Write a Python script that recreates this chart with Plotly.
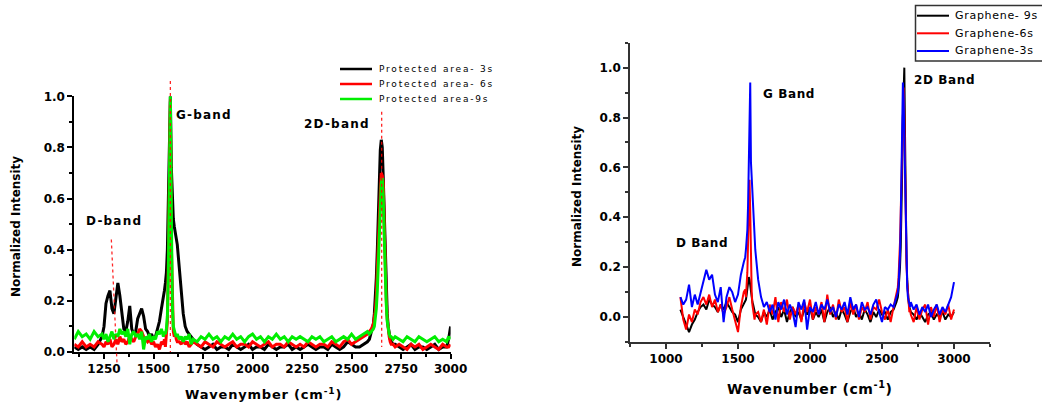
import plotly.graph_objects as go

# ---------------- Left panel: protected-area Raman spectra ----------------
WN_LEFT = [1100, 1120, 1140, 1160, 1180, 1200, 1220, 1240,
           1250, 1260, 1270, 1280, 1290, 1300, 1310, 1320, 1330, 1340, 1350, 1360,
           1370, 1380, 1390, 1400, 1410, 1420, 1430, 1440, 1450, 1460, 1470, 1480,
           1490, 1500, 1510, 1520, 1530, 1540, 1550,
           1555, 1560, 1565, 1570, 1575, 1580, 1585, 1590, 1595, 1600, 1605, 1610, 1615, 1620,
           1630, 1640, 1650, 1660, 1670, 1680, 1690, 1700,
           1720, 1740, 1760, 1780, 1800, 1820, 1840, 1860, 1880, 1900, 1920,
           1940, 1960, 1980, 2000, 2020, 2040, 2060, 2080, 2100, 2120, 2140,
           2160, 2180, 2200, 2220, 2240, 2260, 2280, 2300, 2320, 2340, 2360,
           2380, 2400, 2420, 2440, 2460, 2480, 2500, 2520, 2540, 2560, 2580,
           2590, 2600, 2610,
           2615, 2620, 2625, 2630, 2635, 2640, 2645, 2650, 2655, 2660, 2665, 2670,
           2675, 2680, 2685, 2690, 2695, 2700,
           2710, 2720,
           2740, 2760, 2780, 2800, 2820, 2840, 2860, 2880, 2900, 2920, 2940, 2960, 2980, 2990, 3000]

AREA_3S = [0.02, 0.01, 0.02, 0.01, 0.02, 0.01, 0.03, 0.06,
           0.10, 0.19, 0.22, 0.24, 0.17, 0.15, 0.21, 0.27, 0.22, 0.15, 0.09, 0.08,
           0.12, 0.18, 0.09, 0.07, 0.08, 0.13, 0.15, 0.17, 0.14, 0.09, 0.08, 0.06,
           0.07, 0.05, 0.06, 0.09, 0.12, 0.17, 0.21,
           0.24, 0.27, 0.31, 0.40, 0.58, 0.82, 1.00, 0.72, 0.56, 0.52, 0.49, 0.47, 0.45, 0.42,
           0.33, 0.24, 0.15, 0.10, 0.08, 0.07, 0.06, 0.05,
           0.03, 0.02, 0.01, 0.02, 0.03, 0.01, 0.02, 0.02, 0.01, 0.03, 0.02,
           0.01, 0.02, 0.03, 0.01, 0.02, 0.02, 0.01, 0.03, 0.02, 0.01, 0.02,
           0.02, 0.03, 0.01, 0.02, 0.01, 0.02, 0.03, 0.02, 0.01, 0.02, 0.02,
           0.01, 0.03, 0.02, 0.01, 0.02, 0.04, 0.03, 0.02, 0.02, 0.03, 0.04,
           0.05, 0.08, 0.11,
           0.15, 0.21, 0.29, 0.40, 0.53, 0.67, 0.79, 0.83, 0.80, 0.68, 0.52, 0.36,
           0.24, 0.15, 0.10, 0.07, 0.05, 0.04,
           0.03, 0.03,
           0.02, 0.01, 0.02, 0.03, 0.01, 0.02, 0.02, 0.01, 0.02, 0.03, 0.01, 0.02, 0.02, 0.05, 0.10]

AREA_6S = [0.03, 0.02, 0.04, 0.02, 0.03, 0.02, 0.04, 0.03,
           0.02, 0.04, 0.03, 0.05, 0.02, 0.03, 0.05, 0.03, 0.06, 0.04, 0.05, 0.03,
           0.04, 0.06, 0.05, 0.04, 0.06, 0.07, 0.09, 0.08, 0.06, 0.05, 0.04, 0.05,
           0.03, 0.04, 0.02, 0.03, 0.01, 0.04, 0.03,
           0.05, 0.02, 0.07, 0.12, 0.35, 0.78, 0.98, 0.42, 0.15, 0.08, 0.06, 0.07, 0.05, 0.04,
           0.04, 0.03, 0.05, 0.03, 0.04, 0.02, 0.03, 0.04,
           0.03, 0.02, 0.04, 0.03, 0.02, 0.04, 0.03, 0.02, 0.03, 0.04, 0.02,
           0.03, 0.03, 0.02, 0.04, 0.03, 0.02, 0.03, 0.04, 0.02, 0.03, 0.03,
           0.02, 0.04, 0.03, 0.02, 0.03, 0.02, 0.04, 0.03, 0.02, 0.03, 0.03,
           0.02, 0.04, 0.03, 0.02, 0.04, 0.05, 0.03, 0.04, 0.05, 0.06, 0.07,
           0.08, 0.09, 0.11,
           0.13, 0.16, 0.22, 0.30, 0.40, 0.52, 0.62, 0.70, 0.69, 0.66, 0.50, 0.33,
           0.21, 0.13, 0.08, 0.06, 0.04, 0.03,
           0.03, 0.02,
           0.03, 0.02, 0.01, 0.03, 0.02, 0.03, 0.01, 0.02, 0.03, 0.02, 0.01, 0.03, 0.02, 0.02, 0.03]

AREA_9S = [0.05, 0.08, 0.06, 0.07, 0.05, 0.08, 0.06, 0.07,
           0.05, 0.07, 0.04, 0.06, 0.08, 0.05, 0.07, 0.06, 0.09, 0.07, 0.08, 0.06,
           0.09, 0.03, 0.07, 0.08, 0.06, 0.07, 0.05, 0.08, 0.01, 0.06, 0.05, 0.07,
           0.04, 0.06, 0.05, 0.08, 0.07, 0.09, 0.06,
           0.08, 0.07, 0.09, 0.14, 0.32, 0.75, 1.00, 0.55, 0.18, 0.10, 0.08, 0.07, 0.06, 0.07,
           0.05, 0.06, 0.04, 0.06, 0.05, 0.07, 0.03, 0.05,
           0.04, 0.06, 0.05, 0.07, 0.05, 0.06, 0.04, 0.06, 0.05, 0.07, 0.05,
           0.06, 0.04, 0.06, 0.07, 0.05, 0.06, 0.04, 0.06, 0.05, 0.07, 0.05,
           0.06, 0.04, 0.06, 0.05, 0.06, 0.05, 0.04, 0.06, 0.05, 0.06, 0.04,
           0.05, 0.06, 0.04, 0.05, 0.06, 0.05, 0.07, 0.05, 0.06, 0.07, 0.08,
           0.07, 0.08, 0.09,
           0.10, 0.13, 0.17, 0.24, 0.33, 0.44, 0.56, 0.66, 0.68, 0.60, 0.45, 0.30,
           0.19, 0.12, 0.09, 0.07, 0.06, 0.06,
           0.05, 0.06,
           0.05, 0.04, 0.06, 0.05, 0.04, 0.06, 0.05, 0.04, 0.05, 0.06, 0.04, 0.05, 0.04, 0.06, 0.05]

LEFT_SERIES = [("Protected area- 3s", AREA_3S, "#000000"),
               ("Protected area- 6s", AREA_6S, "#ff0000"),
               ("Protected area-9s", AREA_9S, "#00ee00")]

# band guide lines: (x_top, y_top, x_bottom, y_bottom)
BAND_GUIDES = [(1287, 0.44, 1316, -0.05),
               (1585, 1.06, 1585, 0.0),
               (2652, 0.94, 2652, 0.02)]

LEFT_LABELS = [("D-band", 1300, 0.513), ("G-band", 1755, 0.927), ("2D-band", 2426, 0.892)]

# ---------------- Right panel: graphene Raman spectra ----------------
WN_RIGHT = [1100, 1120, 1140, 1160, 1180, 1200, 1220, 1240, 1260, 1280, 1300, 1320,
            1340, 1360, 1380, 1400, 1420, 1440, 1460, 1480, 1500, 1520, 1540,
            1550, 1555, 1560, 1565, 1570, 1575, 1580, 1585, 1590, 1595, 1600, 1605,
            1610, 1615, 1620,
            1640, 1660, 1680, 1700, 1720, 1740, 1760, 1780, 1800, 1820, 1840, 1860,
            1880, 1900, 1920, 1940, 1960, 1980, 2000, 2020, 2040, 2060, 2080, 2100,
            2120, 2140, 2160, 2180, 2200, 2220, 2240, 2260, 2280, 2300, 2320, 2340,
            2360, 2380, 2400, 2420, 2440, 2460, 2480, 2500, 2520, 2540, 2560, 2580, 2600,
            2610, 2615, 2620, 2625, 2630, 2635, 2640, 2645, 2650, 2655, 2660, 2665,
            2670, 2675, 2680, 2685, 2690, 2695, 2700,
            2720, 2740, 2760, 2780, 2800, 2820, 2840, 2860, 2880, 2900, 2920, 2940,
            2960, 2980, 3000]

GRAPHENE_9S = [0.03, 0.00, -0.03, -0.06, -0.03, -0.01, 0.02, 0.04, 0.05, 0.03, 0.07, 0.05,
               0.04, 0.02, 0.05, 0.03, 0.06, 0.04, 0.02, 0.01, -0.02, 0.03, 0.05,
               0.06, 0.07, 0.09, 0.12, 0.14, 0.16, 0.15, 0.12, 0.10, 0.08, 0.06, 0.05,
               0.04, 0.02, 0.01,
               0.00, -0.02, 0.02, 0.00,
               0.03, -0.01, 0.02, 0.04, 0.00, 0.03, -0.02, 0.02, 0.04, 0.00,
               0.02, -0.01, 0.03, 0.01, 0.04, -0.01, 0.02, 0.00, 0.03, -0.02,
               0.02, 0.04, 0.00, 0.02, -0.01, 0.03, 0.01, -0.02, 0.02, 0.04,
               0.00, 0.02, -0.01, 0.03, 0.01, -0.02, 0.02, 0.00, 0.03, 0.01,
               0.02, -0.01, 0.02, 0.03, 0.06,
               0.08, 0.11, 0.15, 0.20, 0.28, 0.40, 0.58, 0.80, 0.96, 1.00, 0.72, 0.42,
               0.24, 0.15, 0.09, 0.06, 0.04, 0.03, 0.02,
               0.01, -0.01, 0.02, 0.00, -0.02, 0.01, 0.02, -0.01, 0.01, 0.00, 0.02, -0.01,
               0.01, 0.00, 0.02]

GRAPHENE_6S = [0.08, -0.01, -0.05, 0.01, -0.02, 0.03, 0.01, 0.06, 0.08, 0.05, 0.09, 0.04,
               0.07, 0.02, 0.05, 0.01, 0.04, 0.08, 0.03, -0.02, -0.06, 0.04, 0.10,
               0.11, 0.08, 0.13, 0.18, 0.30, 0.48, 0.55, 0.42, 0.20, 0.10, 0.05, 0.03,
               0.02, -0.01, 0.01,
               0.02, -0.02, 0.03, -0.03,
               0.05, 0.01, 0.08, -0.02, 0.06, 0.02, 0.07, -0.01, 0.04, 0.01,
               0.05, -0.02, 0.06, 0.02, 0.07, -0.01, 0.04, 0.01, 0.06, -0.02,
               0.09, 0.01, 0.05, -0.01, 0.07, 0.02, 0.04, -0.02, 0.06, 0.01,
               0.05, -0.01, 0.04, 0.02, 0.06, -0.01, 0.04, 0.03, 0.07, 0.02,
               -0.01, 0.03, -0.02, 0.04, 0.10,
               0.12, 0.16, 0.22, 0.30, 0.42, 0.58, 0.75, 0.88, 0.92, 0.80, 0.56, 0.36,
               0.22, 0.14, 0.08, 0.05, 0.02, 0.03, 0.01,
               -0.02, 0.04, -0.01, 0.03, 0.05, -0.03, 0.04, 0.00, 0.05, -0.02, 0.03, 0.01,
               0.05, -0.01, 0.03]

GRAPHENE_3S = [0.08, 0.05, 0.07, 0.13, 0.04, 0.09, 0.05, 0.10, 0.14, 0.19, 0.15, 0.17,
               0.09, 0.06, 0.12, -0.02, 0.08, 0.12, 0.10, 0.06, 0.09, 0.17, 0.22,
               0.24, 0.27, 0.30, 0.35, 0.45, 0.65, 0.85, 0.94, 0.62, 0.56, 0.50, 0.44,
               0.38, 0.32, 0.27,
               0.15, 0.08, 0.04, 0.06,
               0.02, 0.05, -0.01, 0.06, 0.03, 0.07, 0.01, 0.05, 0.02, -0.04,
               0.06, 0.03, 0.07, -0.05, 0.04, 0.02, 0.06, 0.01, 0.05, 0.03,
               0.07, 0.02, 0.04, 0.00, 0.05, 0.03, 0.06, 0.01, 0.08, 0.03,
               0.05, 0.00, 0.06, 0.03, 0.04, 0.01, 0.05, 0.07, 0.02, -0.02,
               0.04, 0.03, 0.05, 0.04, 0.08,
               0.10, 0.13, 0.18, 0.25, 0.38, 0.55, 0.78, 0.94, 0.88, 0.70, 0.48, 0.30,
               0.19, 0.12, 0.08, 0.06, 0.05, 0.04, 0.06,
               0.03, 0.05, 0.01, 0.04, 0.02, 0.05, 0.00, 0.03, 0.05, 0.01, 0.04, 0.02,
               0.05, 0.08, 0.14]

RIGHT_SERIES = [("Graphene- 9s", GRAPHENE_9S, "#000000"),
                ("Graphene-6s", GRAPHENE_6S, "#ff0000"),
                ("Graphene-3s", GRAPHENE_3S, "#0000ff")]

RIGHT_LABELS = [("G Band", 1851, 0.896), ("2D Band", 2932, 0.952), ("D Band", 1251, 0.298)]

for _, ys, _ in LEFT_SERIES:
    assert len(ys) == len(WN_LEFT)
for _, ys, _ in RIGHT_SERIES:
    assert len(ys) == len(WN_RIGHT)

# ---------------- Figure geometry (pixels on a 1042 x 407 page) ----------------
W, H = 1042, 407


def px_x(p):
    return p / W


def px_y(p):
    return 1 - p / H


LEFT_XDOM = [px_x(74.3), px_x(450.6)]
LEFT_YDOM = [px_y(352), px_y(96.3)]
LEFT_XR, LEFT_YR = [1100, 3000], [0, 1.0]
RIGHT_XDOM = [px_x(630), px_x(990)]
RIGHT_YDOM = [px_y(342), px_y(42.7)]
RIGHT_XR, RIGHT_YR = [750, 3250], [-0.1, 1.1]

# overlay axes sharing the left scale, taller so guide lines can pass the frame
GUIDE_YR = [-0.08, 1.10]
span = LEFT_YDOM[1] - LEFT_YDOM[0]
GUIDE_YDOM = [LEFT_YDOM[0] + (GUIDE_YR[0] - LEFT_YR[0]) / (LEFT_YR[1] - LEFT_YR[0]) * span,
              LEFT_YDOM[0] + (GUIDE_YR[1] - LEFT_YR[0]) / (LEFT_YR[1] - LEFT_YR[0]) * span]

FONT = "DejaVu Sans"

fig = go.Figure()

for name, ys, color in LEFT_SERIES:
    fig.add_trace(go.Scatter(x=WN_LEFT, y=ys, mode="lines", name=name,
                             line=dict(color=color, width=3),
                             xaxis="x", yaxis="y", showlegend=False))

for name, ys, color in RIGHT_SERIES:
    fig.add_trace(go.Scatter(x=WN_RIGHT, y=ys, mode="lines", name=name,
                             line=dict(color=color, width=2),
                             xaxis="x2", yaxis="y2", showlegend=False))

for xt, yt, xb, yb in BAND_GUIDES:
    fig.add_trace(go.Scatter(x=[xt, xb], y=[yt, yb], mode="lines",
                             line=dict(color="rgba(255,0,0,0.85)", width=1.3, dash="dot"),
                             xaxis="x3", yaxis="y3", showlegend=False, hoverinfo="skip"))

tick_font = dict(family=FONT, size=12, color="black", weight="bold")


def axis_style(color, lw):
    return dict(showline=True, linecolor=color, linewidth=lw, ticks="outside",
                ticklen=5, tickwidth=1.5, tickcolor=color, showgrid=False,
                zeroline=False, tickfont=tick_font)


fig.update_layout(
    width=W, height=H,
    margin=dict(l=0, r=0, t=0, b=0, autoexpand=False),
    paper_bgcolor="white", plot_bgcolor="rgba(0,0,0,0)",
    showlegend=False,
    xaxis=dict(domain=LEFT_XDOM, range=LEFT_XR, anchor="y", tick0=1250, dtick=250,
               minor=dict(dtick=125, ticks="outside", ticklen=3, tickcolor="black", tickwidth=1.5),
               **axis_style("black", 2)),
    yaxis=dict(domain=LEFT_YDOM, range=LEFT_YR, anchor="x", tick0=0, dtick=0.2, tickformat=".1f",
               minor=dict(dtick=0.1, ticks="outside", ticklen=3, tickcolor="black", tickwidth=1.5),
               **axis_style("black", 2)),
    xaxis2=dict(domain=RIGHT_XDOM, range=RIGHT_XR, anchor="y2", tick0=1000, dtick=500,
                minor=dict(dtick=250, ticks="outside", ticklen=3, tickcolor="#333", tickwidth=1.5),
                **axis_style("#333", 1.5)),
    yaxis2=dict(domain=RIGHT_YDOM, range=RIGHT_YR, anchor="x2", tick0=0, dtick=0.2, tickformat=".1f",
                minor=dict(dtick=0.1, ticks="outside", ticklen=3, tickcolor="#333", tickwidth=1.5),
                **axis_style("#333", 1.5)),
    xaxis3=dict(domain=LEFT_XDOM, range=LEFT_XR, anchor="y3", visible=False),
    yaxis3=dict(domain=GUIDE_YDOM, range=GUIDE_YR, anchor="x3", visible=False),
)


def spaced(text, ls):
    return f'<span style="letter-spacing:{ls}px">{text}</span>'


annotations = []


def legend_block(series, x_line0, x_line1, x_text, rows, size, ls, lw):
    for (name, _, color), yy in zip(series, rows):
        fig.add_shape(type="line", xref="paper", yref="paper",
                      x0=px_x(x_line0), x1=px_x(x_line1), y0=px_y(yy), y1=px_y(yy),
                      line=dict(color=color, width=lw))
        annotations.append(dict(xref="paper", yref="paper", x=px_x(x_text), y=px_y(yy),
                                xanchor="left", yanchor="middle", showarrow=False,
                                text=spaced(name, ls),
                                font=dict(family=FONT, size=size, color="black")))


# left key, no frame
legend_block(LEFT_SERIES, 340, 372, 377, [69, 84, 99], 9, 1.8, 2.5)

# right key inside a frame that runs off the page edge
fig.add_shape(type="rect", xref="paper", yref="paper",
              x0=px_x(915.5), x1=px_x(1060), y0=px_y(61), y1=px_y(5.5),
              line=dict(color="#333", width=1.5), fillcolor="white", layer="above")
legend_block(RIGHT_SERIES, 917, 949, 953, [15.7, 33.3, 51], 11, 0.7, 2)

for text, x, y in LEFT_LABELS:
    annotations.append(dict(xref="x", yref="y", x=x, y=y, showarrow=False,
                            xanchor="center", yanchor="middle",
                            text=spaced(text, 1.2),
                            font=dict(family=FONT, size=12, color="black", weight="bold")))
for text, x, y in RIGHT_LABELS:
    annotations.append(dict(xref="x2", yref="y2", x=x, y=y, showarrow=False,
                            xanchor="center", yanchor="middle",
                            text=spaced(text, 0.6),
                            font=dict(family=FONT, size=12, color="black", weight="bold")))

title_font = dict(family=FONT, size=12, color="black", weight="bold")
annotations += [
    dict(xref="paper", yref="paper", x=px_x(16), y=px_y(227), textangle=-90,
         xanchor="center", yanchor="middle",
         showarrow=False, text="Normalized Intensity", font=title_font),
    dict(xref="paper", yref="paper", x=px_x(577), y=px_y(197), textangle=-90,
         xanchor="center", yanchor="middle",
         showarrow=False, text="Normalized Intensity", font=title_font),
    dict(xref="paper", yref="paper", x=px_x(263), y=px_y(394),
         xanchor="center", yanchor="middle", showarrow=False,
         text=spaced("Wavenymber (cm<sup>-1</sup>)", 0.8),
         font=dict(family=FONT, size=13, color="black", weight="bold")),
    dict(xref="paper", yref="paper", x=px_x(810), y=px_y(388),
         xanchor="center", yanchor="middle", showarrow=False,
         text=spaced("Wavenumber (cm<sup>-1</sup>)", 0.6),
         font=dict(family=FONT, size=14, color="black", weight="bold")),
]
fig.update_layout(annotations=annotations)

fig.write_html("out.html")
